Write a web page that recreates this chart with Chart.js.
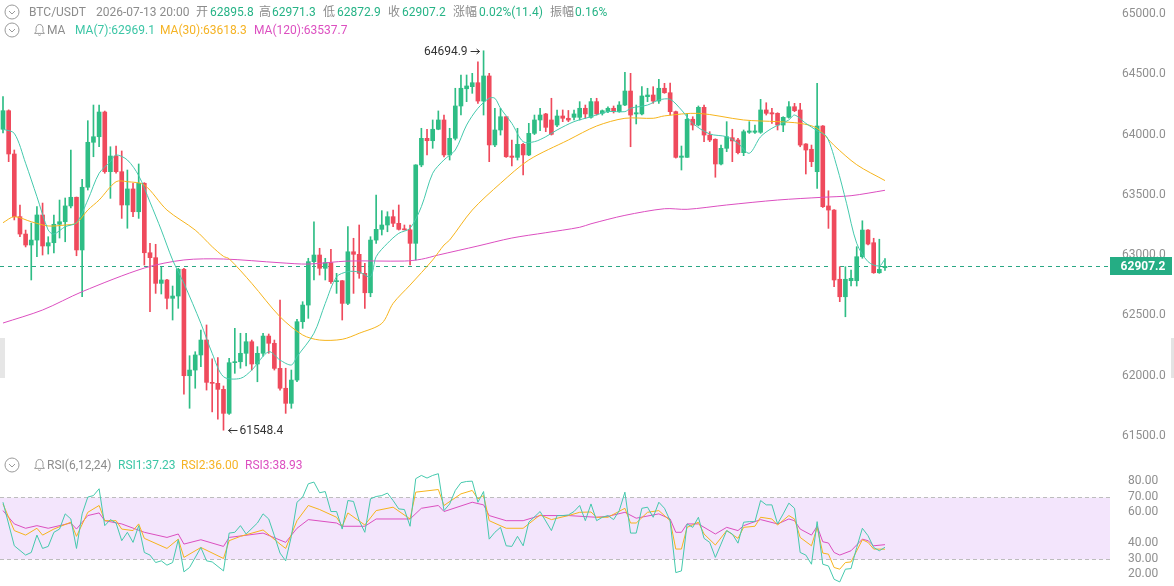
<!DOCTYPE html>
<html>
<head>
<meta charset="utf-8">
<script src="https://cdn.jsdelivr.net/npm/chart.js@4.4.1/dist/chart.umd.min.js"></script>
<style>
  html, body { margin: 0; padding: 0; background: #fff; }
  #wrap { position: relative; width: 1174px; height: 586px; overflow: hidden;
          font-family: Roboto, 'Noto Sans CJK SC', sans-serif; font-size: 12px; color: #8c8c8c; }
  canvas { position: absolute; left: 0; }
  #main { top: 0; }
  #rsi { top: 450px; }
  .t { position: absolute; white-space: nowrap; line-height: 14px; }
  .g { color: #26b386; }
  .c7 { color: #3cc6a6; }
  .c30 { color: #f5b324; }
  .c120 { color: #dc4fc0; }
  .ic { position: absolute; }
</style>
</head>
<body>
<div id="wrap">
  <canvas id="main" width="1174" height="450"></canvas>
  <canvas id="rsi" width="1174" height="136"></canvas>

  <!-- header line 1 -->
  <svg class="ic" style="left:4px;top:4px" width="16" height="16"><circle cx="8" cy="8" r="7" stroke="#9a9a9a" fill="none"/><polyline points="5,7 8,10 11,7" stroke="#9a9a9a" fill="none"/></svg>
  <span class="t" style="left:29px;top:5px">BTC/USDT</span>
  <span class="t" style="left:96px;top:5px">2026-07-13 20:00</span>
  <span class="t" style="left:196px;top:5px">开</span>
  <span class="t g" style="left:210px;top:5px">62895.8</span>
  <span class="t" style="left:259px;top:5px">高</span>
  <span class="t g" style="left:272px;top:5px">62971.3</span>
  <span class="t" style="left:323px;top:5px">低</span>
  <span class="t g" style="left:337px;top:5px">62872.9</span>
  <span class="t" style="left:388px;top:5px">收</span>
  <span class="t g" style="left:402px;top:5px">62907.2</span>
  <span class="t" style="left:453px;top:5px">涨幅</span>
  <span class="t g" style="left:479px;top:5px">0.02%(11.4)</span>
  <span class="t" style="left:550px;top:5px">振幅</span>
  <span class="t g" style="left:575px;top:5px">0.16%</span>

  <!-- header line 2 -->
  <svg class="ic" style="left:4px;top:22px" width="16" height="16"><circle cx="8" cy="8" r="7" stroke="#9a9a9a" fill="none"/><polyline points="5,7 8,10 11,7" stroke="#9a9a9a" fill="none"/></svg>
  <svg class="ic" style="left:33px;top:23px" width="13" height="14"><path d="M6.5 1.5C4.2 1.5 3 3.3 3 5.6V8.6L1.6 10.4H11.4L10 8.6V5.6C10 3.3 8.8 1.5 6.5 1.5Z" stroke="#9a9a9a" fill="none"/><path d="M5.2 11.8Q6.5 13.2 7.8 11.8" stroke="#9a9a9a" fill="none"/></svg>
  <span class="t" style="left:47px;top:23px">MA</span>
  <span class="t c7" style="left:75px;top:23px">MA(7):62969.1</span>
  <span class="t c30" style="left:160px;top:23px">MA(30):63618.3</span>
  <span class="t c120" style="left:254px;top:23px">MA(120):63537.7</span>

  <!-- RSI header -->
  <svg class="ic" style="left:4px;top:457px" width="16" height="16"><circle cx="8" cy="8" r="7" stroke="#9a9a9a" fill="none"/><polyline points="5,7 8,10 11,7" stroke="#9a9a9a" fill="none"/></svg>
  <svg class="ic" style="left:33px;top:458px" width="13" height="14"><path d="M6.5 1.5C4.2 1.5 3 3.3 3 5.6V8.6L1.6 10.4H11.4L10 8.6V5.6C10 3.3 8.8 1.5 6.5 1.5Z" stroke="#9a9a9a" fill="none"/><path d="M5.2 11.8Q6.5 13.2 7.8 11.8" stroke="#9a9a9a" fill="none"/></svg>
  <span class="t" style="left:47px;top:458px">RSI(6,12,24)</span>
  <span class="t c7" style="left:118px;top:458px">RSI1:37.23</span>
  <span class="t c30" style="left:181px;top:458px">RSI2:36.00</span>
  <span class="t c120" style="left:245px;top:458px">RSI3:38.93</span>

  <!-- side handles -->
  <div style="position:absolute;left:0;top:338px;width:5px;height:40px;background:#e6e6e6"></div>
  <div style="position:absolute;left:1171px;top:338px;width:3px;height:40px;background:#e3e3e3"></div>
</div>

<script>
// candles, 1h, oldest first
const opens = [64044,64198,63839,63319,63175,63084,63125,63333,63076,63103,63256,63277,63408,63480,63043,63563,63936,63982,64187,63692,
  63822,63692,63416,63549,63360,63596,63020,62979,62766,62794,62642,62661,62883,62000,62047,62172,62296,61945,61937,61887,
  61688,62108,62116,62186,62282,62097,62186,62329,62269,62061,61896,61771,61964,62448,62586,62946,63001,62891,62937,62780,
  62788,62600,63028,63007,62849,62688,63125,63214,63250,63319,63264,63214,63210,63098,63748,63969,63949,64044,64121,63831,
  63969,64237,64380,64397,64430,64278,64486,63914,64038,64148,63822,63811,63919,63831,64010,64121,64171,64121,64079,64154,
  64135,64143,64143,64218,64143,64273,64176,64190,64218,64190,64245,64361,64171,64171,64314,64328,64278,64384,64347,64190,
  63811,63811,64127,64079,64226,63996,63961,63756,63886,63974,63955,63850,64019,64019,64019,64204,64181,64176,64079,64143,
  64231,64204,63922,63878,63692,64071,63408,63374,62800,62655,62788,62788,62987,63208,63103,62854,62895.8];
const highs = [64314,64205,63872,63416,63208,63266,63402,63432,63153,63333,63457,63474,63872,63482,63629,64115,64245,64245,64195,63899,
  63905,63864,63706,63596,63756,63601,63098,63090,62899,62800,62744,62891,62891,62166,62199,62379,62421,62140,62150,61915,
  62144,62393,62352,62352,62296,62241,62352,62346,62296,62628,62062,62047,62468,62614,62974,63277,63057,62974,63048,62849,
  62790,63236,63140,63250,62932,63153,63499,63369,63360,63374,63416,63250,63250,63750,64052,64044,64121,64196,64162,64052,
  64384,64494,64494,64508,64604,64694.9,64508,64218,64218,64150,63955,64052,63928,64093,64162,64218,64176,64301,64204,64204,
  64200,64204,64273,64245,64301,64301,64204,64231,64237,64273,64516,64508,64245,64397,64384,64397,64458,64425,64428,64195,
  63905,64176,64148,64237,64245,64024,63965,63913,64107,64044,63969,64038,64107,64079,64292,64264,64218,64181,64148,64273,
  64259,64259,63925,63913,64425,64075,63534,63378,62904,62904,62877,63070,63285,63212,63140,63132,62971.3];
const lows = [64013,63775,63292,63153,63068,62794,62987,63001,63009,63018,63142,63111,63391,62995,62655,63540,63816,63899,63679,63471,
  63679,63305,63223,63319,63305,62918,62531,62683,62678,62553,62462,62559,61848,61730,61896,62075,61881,61700,61640,61548.4,
  61680,62020,62062,62081,62047,61950,62163,62186,62047,61881,61688,61730,61950,62393,62476,62794,62835,62794,62766,62683,
  62462,62590,62683,62808,62559,62655,63098,63167,63194,63236,63208,63208,62918,62960,63733,63831,63886,64040,63814,63789,
  63955,64162,64273,64342,64259,64162,63775,63899,63996,63811,63739,63789,63665,63825,64000,64032,64024,63996,64065,64107,
  64107,64121,64121,64135,64135,64162,64162,64181,64179,64185,64239,63899,64088,64162,64273,64259,64259,64342,64162,63805,
  63706,63811,64038,64071,63941,63941,63646,63748,63858,63775,63839,63825,64010,64010,64010,64162,64093,64038,64024,64135,
  64190,63899,63673,63734,63554,63395,63222,62738,62614,62489,62744,62744,62974,63084,62849,62849,62872.9];
const closes = [64198,63839,63319,63175,63084,63125,63333,63076,63103,63256,63277,63408,63480,63043,63563,63936,63982,64187,63692,63822,
  63692,63416,63549,63360,63596,63020,62979,62766,62794,62642,62661,62883,62000,62047,62172,62296,61945,61937,61887,61688,
  62108,62116,62186,62282,62097,62186,62329,62269,62061,61896,61771,61964,62448,62586,62946,63001,62891,62937,62780,62788,
  62600,63028,63007,62849,62688,63125,63214,63250,63319,63264,63214,63210,63098,63748,63969,63949,64044,64121,63831,63969,
  64237,64384,64403,64430,64278,64486,63914,64038,64148,63816,63811,63919,63831,64010,64121,64162,64060,64002,64154,64135,
  64120,64171,64218,64171,64273,64171,64198,64218,64190,64245,64361,64162,64181,64320,64328,64278,64384,64347,64190,63811,
  63822,64127,64079,64226,63996,63955,63756,63886,63982,63947,63850,64024,64030,64030,64204,64176,64171,64079,64143,64231,
  64198,63913,63872,63775,64071,63402,63374,62794,62655,62800,62808,62987,63208,63092,62854,62882,62907.2];

// moving averages, read as [candle index, value]
const ma7 = [[0,64044],[2,64010],[4,63762],[6,63485],[8,63208],[9,63175],[11,63236],[13,63269],[15,63457],[17,63679],
  [19,63775],[20,63831],[22,63789],[24,63660],[26,63440],[28,63208],[30,62960],[32,62766],[35,62434],[37,62186],
  [39,61992],[42,61978],[44,62047],[47,62199],[49,62130],[51,62089],[52,62158],[55,62352],[57,62600],[59,62820],
  [61,62863],[63,62860],[65,62821],[66,62987],[68,63098],[70,63181],[72,63223],[74,63402],[76,63679],[78,63790],
  [80,63872],[82,64079],[84,64218],[86,64301],[87,64301],[88,64218],[90,64093],[92,63941],[94,63941],[96,63982],
  [98,64038],[101,64107],[104,64148],[107,64190],[110,64190],[111,64218],[114,64245],[116,64287],[118,64292],[120,64204],
  [122,64093],[125,64005],[128,63982],[130,63928],[132,63845],[134,63982],[136,64052],[139,64121],[140,64162],[142,64093],
  [144,64032],[145.7,63982],[147.5,63733],[149.2,63430],[151,63098],[153,62946],[155,62910],[156,62969.1]];
const ma30 = [[0,63269],[2,63319],[5,63277],[8,63242],[11,63250],[13,63266],[15,63374],[17,63457],[20,63609],[22,63609],
  [25,63582],[29,63374],[34,63208],[37,63070],[39,62990],[40,62970],[44,62766],[49,62489],[53,62338],[56,62296],
  [60,62302],[63,62352],[67,62434],[69,62600],[72,62752],[76,62960],[78,63084],[79,63125],[83,63374],[88,63596],
  [93,63789],[100,63955],[105,64071],[110,64135],[115,64135],[117,64155],[123,64176],[131,64121],[137,64107],[141,64093],
  [144,64052],[147,63910],[151,63750],[156,63618.3]];
const ma120 = [[0,62437],[7,62545],[14,62697],[25,62893],[32,62960],[39,62968],[49,62937],[54,62926],[61,62951],[71,62951],
  [74,62966],[77,63001],[84,63076],[90,63142],[96,63186],[102,63231],[104,63260],[110,63330],[117,63385],[121,63380],
  [128,63416],[137,63457],[145,63480],[150,63493],[156,63537.7]];

// RSI(6,12,24), read as [candle index, value]
const rsi1 = [[0,66.3],[2,38.2],[4,32.2],[5,33.9],[6,45.1],[7,36.5],[8,37.8],[9,46.9],[10,49],[11,58.8],[12,55.5],[13,36.5],
  [14,58.8],[15,69.6],[16,70.6],[17,75],[18,51.2],[19,55.1],[20,52.9],[21,41.5],[22,46.9],[23,40.4],[24,51.2],[25,33.9],
  [26,32.2],[27,27.4],[28,28.5],[29,25.7],[30,27.4],[31,42.1],[32,21.4],[33,24.2],[35,37.1],[36,28.5],[37,27.8],[39,22],
  [40,46.4],[41,46.9],[42,51.2],[43,45.8],[45,52.9],[46,58.8],[47,55.5],[48,44.7],[49,33.5],[50,28.5],[51,44.3],[52,66.3],
  [53,69.6],[54,78.2],[55,79.3],[56,72.4],[57,73.2],[58,60.3],[59,60.3],[60,49],[61,67.4],[62,66.8],[63,54.4],[64,46.9],
  [65,68.5],[66,70],[67,70.6],[68,72.2],[69,67.4],[70,62],[71,61.6],[72,50.8],[73,81.5],[74,83.6],[75,81.9],[76,83.6],
  [77,84.7],[78,60.9],[79,65.2],[80,73.9],[81,78.9],[82,79.7],[83,79.9],[84,66.3],[85,73.2],[86,42.5],[87,46.9],[88,50.1],
  [89,38.2],[90,37.8],[91,44.3],[92,38.2],[93,53.4],[95,60.3],[97,48],[98,57.7],[99,57.7],[100,58.1],[101,60.3],[102,64.2],
  [103,54.4],[104,65.2],[105,54.4],[106,56.6],[107,57.7],[108,55.1],[109,60.9],[110,72.8],[111,46.4],[112,46.4],[113,62.4],
  [114,63.1],[115,56.6],[116,66.3],[117,62.4],[118,54.4],[119,20.9],[120,22],[121,52.3],[122,50.1],[123,56.6],[124,43],
  [125,40.4],[126,30.7],[127,39.3],[128,48],[129,45.8],[130,39.9],[131,53.4],[132,53.8],[133,53.8],[134,67.4],[135,64.6],
  [136,64.6],[137,52.3],[138,58.8],[139,65.7],[140,62.4],[141,33.9],[142,32.2],[143,26.3],[144,53.8],[145,26.3],[146,25.2],
  [147,16.6],[148,14.9],[149,23.1],[150,23.5],[151,37.1],[152,49.5],[153,44.7],[154,37.1],[155,35],[156,37.23]];
const rsi2 = [[0,65.2],[2,48],[4,45.1],[6,49.5],[7,45.1],[9,49],[12,53.4],[13,44.3],[15,59.8],[17,64.2],[18,54.4],[20,54.4],
  [21,49],[23,48],[24,52.3],[25,43],[29,36.5],[31,42.5],[32,30.7],[35,37.1],[39,30],[40,41.5],[42,44.3],[46,48.4],[49,39.3],
  [50,36.5],[52,54.4],[54,64.2],[56,61.6],[59,56.6],[60,50.8],[61,59.4],[64,51.6],[66,60.9],[69,63.1],[72,55.5],[73,72.8],
  [77,74.5],[78,64.2],[81,71.7],[83,73.9],[84,68.5],[85,70.6],[86,54.4],[89,49.5],[92,49.5],[95,58.1],[97,55.1],[100,57.7],
  [102,59.8],[104,60],[105,56.6],[107,56.6],[110,62.4],[111,52.9],[112,52.9],[114,59.8],[116,60.9],[118,54.4],[119,36.1],
  [120,36.1],[121,50.1],[123,53.4],[124,45.8],[126,38.7],[128,48],[130,43],[131,50.1],[133,50.8],[134,56.6],[136,55.5],
  [137,51.6],[139,57.7],[140,55.5],[141,43.6],[143,38.2],[144,50.1],[145,33.5],[146,32.8],[147,24.2],[148,23.1],[149,27.4],
  [150,27.8],[152,42.1],[153,40.4],[154,36.1],[156,36.0]];
const rsi3 = [[0,60.9],[2,52.3],[4,49.5],[6,51.2],[8,49.5],[12,52.9],[13,49],[15,57.7],[17,59.4],[18,54.4],[21,52.3],[25,46.9],
  [29,43.6],[31,45.8],[32,39.3],[35,42.1],[39,37.8],[40,43.6],[46,46.4],[50,40.4],[52,49.5],[54,55.1],[59,52.9],[60,50.8],
  [64,50.8],[66,55.5],[72,55.5],[74,62.4],[77,64.2],[78,60.3],[83,66.3],[85,64.6],[86,57.7],[89,54.4],[92,54.4],[95,57.7],
  [100,57.7],[105,56.6],[107,57.2],[110,59.8],[112,56],[116,58.8],[118,55.5],[119,46.9],[120,46.9],[121,52.3],[123,52.3],
  [126,45.8],[128,50.1],[130,48],[131,51.2],[134,55.1],[137,52.3],[139,55.5],[140,54.4],[141,49],[143,45.1],[144,50.8],
  [145,40.8],[146,40],[147,33.9],[148,32.2],[150,35],[152,42.5],[153,41.5],[154,38.2],[156,38.93]];

const priceTicks = [61500, 62000, 62500, 63000, 63500, 64000, 64500, 65000];
const rsiTicks = [20, 30, 40, 60, 70, 80];

const upColor = '#2ebd85';
const downColor = '#ef4a5c';
const ma7Color = '#45c9ad';
const ma30Color = '#f6b41c';
const ma120Color = '#dc4fc0';
const axisFont = { family: 'Roboto', size: 12 };
const xMin = -0.53, xMax = 195.8;

const candleColors = closes.map((c, i) => c >= opens[i] ? upColor : downColor);
const pts = arr => arr.map(p => ({ x: p[0], y: p[1] }));

const lastPrice = {
  id: 'lastPrice',
  beforeDatasetsDraw(chart) {
    const { ctx, chartArea, scales: { y } } = chart;
    const py = Math.round(y.getPixelForValue(closes[closes.length - 1])) + 0.5;
    ctx.save();
    ctx.strokeStyle = '#2aa784';
    ctx.lineWidth = 1;
    ctx.setLineDash([4, 4]);
    ctx.beginPath();
    ctx.moveTo(chartArea.left, py);
    ctx.lineTo(chartArea.right, py);
    ctx.stroke();
    ctx.restore();
  },
  afterDraw(chart) {
    const { ctx, chartArea, scales: { y } } = chart;
    const last = closes[closes.length - 1];
    const py = Math.round(y.getPixelForValue(last));
    ctx.save();
    ctx.fillStyle = '#25ad84';
    ctx.fillRect(chartArea.right, py - 9, 62, 18);
    ctx.fillStyle = '#fff';
    ctx.font = 'bold 12px Roboto';
    ctx.textAlign = 'center';
    ctx.textBaseline = 'middle';
    ctx.fillText(last.toFixed(1), chartArea.right + 33, py + 1);
    ctx.restore();
  }
};

// max / min markers
const extremes = {
  id: 'extremes',
  afterDatasetsDraw(chart) {
    const { ctx, scales: { x, y } } = chart;
    const hi = Math.max(...highs), lo = Math.min(...lows);
    const hx = x.getPixelForValue(highs.indexOf(hi)), hy = Math.round(y.getPixelForValue(hi)) + 0.5;
    const lx = x.getPixelForValue(lows.indexOf(lo)), ly = Math.round(y.getPixelForValue(lo)) + 0.5;
    ctx.save();
    ctx.fillStyle = '#333';
    ctx.strokeStyle = '#333';
    ctx.lineWidth = 1;
    ctx.font = '12px Roboto';
    ctx.textBaseline = 'middle';
    ctx.beginPath();
    ctx.moveTo(hx - 13, hy); ctx.lineTo(hx - 4, hy);
    ctx.moveTo(hx - 7, hy - 2.5); ctx.lineTo(hx - 4, hy); ctx.lineTo(hx - 7, hy + 2.5);
    ctx.stroke();
    ctx.textAlign = 'right';
    ctx.fillText(hi.toFixed(1), hx - 16, hy);
    ctx.beginPath();
    ctx.moveTo(lx + 5, ly); ctx.lineTo(lx + 14, ly);
    ctx.moveTo(lx + 8, ly - 2.5); ctx.lineTo(lx + 5, ly); ctx.lineTo(lx + 8, ly + 2.5);
    ctx.stroke();
    ctx.textAlign = 'left';
    ctx.fillText(lo.toFixed(1), lx + 16, ly);
    ctx.restore();
  }
};

new Chart(document.getElementById('main'), {
  type: 'bar',
  data: {
    datasets: [
      { type: 'line', data: pts(ma7), borderColor: ma7Color, borderWidth: 1, pointRadius: 0, tension: 0.3, order: 0 },
      { type: 'line', data: pts(ma30), borderColor: ma30Color, borderWidth: 1, pointRadius: 0, tension: 0.3, order: 0 },
      { type: 'line', data: pts(ma120), borderColor: ma120Color, borderWidth: 1, pointRadius: 0, tension: 0.3, order: 0 },
      { data: opens.map((o, i) => ({ x: i, y: [o, closes[i]] })), backgroundColor: candleColors,
        barThickness: 4, minBarLength: 1, grouped: false, order: 1 },
      { data: highs.map((h, i) => ({ x: i, y: [lows[i], h] })), backgroundColor: candleColors,
        barThickness: 1, grouped: false, order: 2 }
    ]
  },
  options: {
    responsive: false,
    animation: false,
    devicePixelRatio: 1,
    layout: { padding: 0 },
    plugins: { legend: { display: false }, tooltip: { enabled: false } },
    scales: {
      x: { type: 'linear', min: xMin, max: xMax, offset: false, display: false },
      y: {
        position: 'right', min: 61384, max: 65116,
        grid: { display: false, drawTicks: false }, border: { display: false },
        ticks: { color: '#8f8f8f', font: axisFont, padding: 12, crossAlign: 'near',
                 callback: v => Number(v).toFixed(1) },
        afterBuildTicks: a => { a.ticks = priceTicks.map(v => ({ value: v })); },
        afterFit: a => { a.width = 64; a.paddingTop = 0; a.paddingBottom = 0; }
      }
    }
  },
  plugins: [lastPrice, extremes]
});

const rsiBand = {
  id: 'rsiBand',
  beforeDatasetsDraw(chart) {
    const { ctx, chartArea, scales: { y } } = chart;
    const top = Math.round(y.getPixelForValue(70)) + 0.5;
    const bot = Math.round(y.getPixelForValue(30)) + 0.5;
    ctx.save();
    ctx.fillStyle = '#f3e5fc';
    ctx.fillRect(chartArea.left, top, chartArea.right - chartArea.left, bot - top);
    ctx.strokeStyle = '#bdbdbd';
    ctx.lineWidth = 1;
    ctx.setLineDash([4, 3]);
    ctx.beginPath();
    ctx.moveTo(chartArea.left, top); ctx.lineTo(chartArea.right, top);
    ctx.moveTo(chartArea.left, bot); ctx.lineTo(chartArea.right, bot);
    ctx.stroke();
    ctx.restore();
  }
};

new Chart(document.getElementById('rsi'), {
  type: 'line',
  data: {
    datasets: [
      { data: pts(rsi1), borderColor: ma7Color, borderWidth: 1, pointRadius: 0, tension: 0 },
      { data: pts(rsi2), borderColor: ma30Color, borderWidth: 1, pointRadius: 0, tension: 0 },
      { data: pts(rsi3), borderColor: ma120Color, borderWidth: 1, pointRadius: 0, tension: 0 }
    ]
  },
  options: {
    responsive: false,
    animation: false,
    devicePixelRatio: 1,
    layout: { padding: 0 },
    plugins: { legend: { display: false }, tooltip: { enabled: false } },
    scales: {
      x: { type: 'linear', min: xMin, max: xMax, display: false },
      y: {
        position: 'right', min: 12.26, max: 100,
        grid: { display: false, drawTicks: false }, border: { display: false },
        ticks: { color: '#8f8f8f', font: axisFont, padding: 18, crossAlign: 'near',
                 callback: v => Number(v).toFixed(2) },
        afterBuildTicks: a => { a.ticks = rsiTicks.map(v => ({ value: v })); },
        afterFit: a => { a.width = 64; a.paddingTop = 0; a.paddingBottom = 0; }
      }
    }
  },
  plugins: [rsiBand]
});
</script>
</body>
</html>
